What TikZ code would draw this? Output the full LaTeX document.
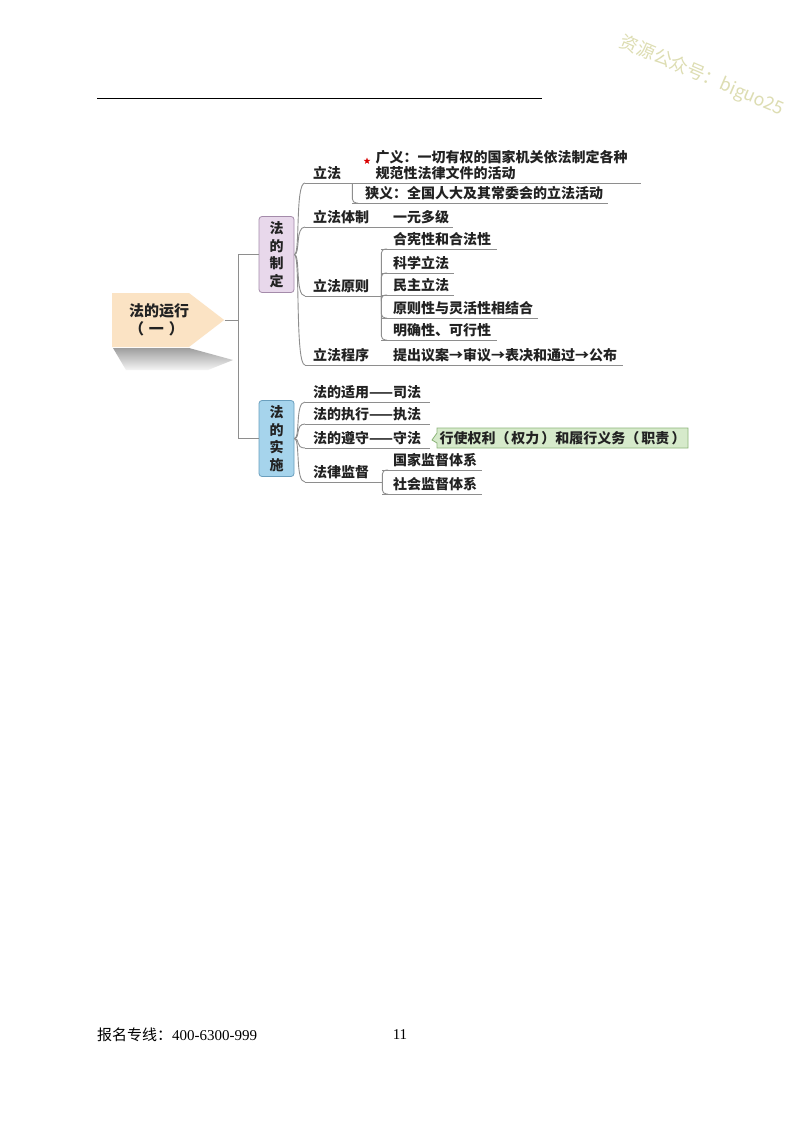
\documentclass[tikz,border=0pt]{standalone}
\usepackage{fontspec}
\setmainfont{Liberation Serif}
\newfontfamily\cjk{Noto Sans CJK SC}
\usetikzlibrary{shapes.geometric,shapes.symbols,shapes.callouts}

\definecolor{rootfill}{HTML}{FBE3C4}
\definecolor{zdfill}{HTML}{E8D8EB}
\definecolor{zdline}{HTML}{A48BAA}
\definecolor{ssfill}{HTML}{A6D4EC}
\definecolor{ssline}{HTML}{6A9FBE}
\definecolor{qlfill}{HTML}{D6EACB}
\definecolor{qlline}{HTML}{8DB57A}
\definecolor{linegray}{HTML}{8E8E8E}
\definecolor{inkgray}{HTML}{222222}
\definecolor{wmcolor}{HTML}{DDDDB2}

\newcommand{\mapfont}{\cjk\bfseries\fontsize{14}{16}\selectfont}

\tikzset{
  branch/.style={draw=linegray, line width=0.9pt},
  bracket/.style={out=0, in=180, out distance=6pt, in distance=10pt},
  item/.style={anchor=south west, inner xsep=8pt, inner ysep=2.5pt, align=left,
    text=inkgray, font=\mapfont,
    append after command={(\tikzlastnode.south west) edge[branch] (\tikzlastnode.south east)}},
  sub/.style={item, inner xsep=12pt},
  mainbox/.style={draw, rounded corners=3pt, line width=0.8pt, minimum width=35pt,
    minimum height=76pt, inner sep=0pt, align=center, text=inkgray,
    font=\cjk\bfseries\fontsize{14}{17.5}\selectfont},
}

\begin{document}
\begin{tikzpicture}[x=1pt, y=-1pt]
\useasboundingbox (0,0) rectangle (800,1124);
\fill[white] (0,0) rectangle (800,1124);

% page rule and watermark
\draw[black, line width=0.9pt] (97,98) -- (542,98);
\node[rotate=-23, text=wmcolor, font=\cjk\fontsize{18}{18}\selectfont] (shuiyin) at (702,76) {资源公众号：biguo25};

% root with its shadow
\shade[top color=black!38, bottom color=black!4] (113,348) -- (189,348) -- (233,360) -- (208,370) -- (126,370) -- cycle;
\node[signal, signal to=east, signal pointer angle=75, fill=rootfill, minimum height=54pt,
  inner xsep=0pt, text width=77pt, align=left, text=inkgray,
  font=\cjk\bfseries\fontsize{15}{18}\selectfont] (root) at (150.5,320) {\hspace*{17pt}法的运行\\\hspace*{17pt}（\hspace{5pt}一\hspace{5pt}）};

\node[mainbox, fill=zdfill, draw=zdline] (zhiding) at (276.5,254.5) {法\\的\\制\\定};
\node[mainbox, fill=ssfill, draw=ssline] (shishi) at (276.5,438.5) {法\\的\\实\\施};
\coordinate (trunk) at ([xshift=14pt]root.east);
\draw[branch] (root.east) -- (trunk) |- (zhiding.west);
\draw[branch] (trunk) |- (shishi.west);

% 法的制定
\node[item, text width=31pt] (lifa) at (305,183) {立法};
\node[item, text width=132pt] (tizhi) at (305,227) {\mbox{立法体制\hspace{24pt}一元多级}};
\node[item, text width=60pt] (yuanze) at (305,296) {立法原则};
\node[item, text width=302pt] (chengxu) at (305,365) {\mbox{立法程序\hspace{24pt}提出议案→审议→表决和通过→公布}};
\foreach \n in {lifa,tizhi,yuanze,chengxu}
  \draw[branch] (zhiding.east) to[bracket] (\n.south west);

\node[item, inner xsep=23pt, text width=242pt] (guangyi) at (lifa.south east) {广义：一切有权的国家机关依法制定各种\\规范性法律文件的活动};
\node[star, star points=5, star point ratio=2.4, fill=red!85!black, inner sep=0pt, minimum size=7pt] (xing) at (367,161) {};
\node[item, inner xsep=13pt, text width=230pt] (xiayi) at (352,203) {狭义：全国人大及其常委会的立法活动};
\draw[branch, rounded corners=4pt] (lifa.south east) |- ([xshift=6pt]xiayi.south west);

\node[sub, text width=92pt] (hexian) at (381,249) {合宪性和合法性};
\node[sub, text width=49pt] (kexue) at (381,273) {科学立法};
\node[sub, text width=49pt] (minzhu) at (381,295) {民主立法};
\node[sub, text width=133pt] (jiehe) at (381,318) {原则性与灵活性相结合};
\node[sub, text width=92pt] (mingque) at (381,340) {明确性、可行性};
\foreach \n in {hexian,kexue,minzhu,jiehe,mingque}
  \draw[branch, rounded corners=4pt] (yuanze.south east) |- ([xshift=6pt]\n.south west);

% 法的实施
\node[item, text width=109pt] (shiyong) at (305,402) {\mbox{法的适用——司法}};
\node[item, text width=109pt] (zhixing) at (305,424) {\mbox{法的执行——执法}};
\node[item, text width=109pt] (zunshou) at (305,448) {\mbox{法的遵守——守法}};
\node[item, text width=61pt] (jiandu) at (305,482) {法律监督};
\foreach \n in {shiyong,zhixing,zunshou,jiandu}
  \draw[branch] (shishi.east) to[bracket] (\n.south west);

\node[sub, inner xsep=11pt, text width=78pt] (guojia) at (382,470) {国家监督体系};
\node[sub, inner xsep=11pt, text width=78pt] (shehui) at (382,494) {社会监督体系};
\foreach \n in {guojia,shehui}
  \draw[branch, rounded corners=4pt] (jiandu.south east) |- ([xshift=6pt]\n.south west);

\node[rectangle callout, callout absolute pointer={(432,440)}, callout pointer width=10pt,
  fill=qlfill, draw=qlline, line width=0.8pt, minimum width=251pt, minimum height=20pt,
  inner sep=0pt, text=inkgray, font=\mapfont] (quanli) at (562.5,438) {行使权利（\hspace{2pt}权力\hspace{2pt}）和履行义务（\hspace{2pt}职责\hspace{2pt}）};

% footer
\node[anchor=west, inner sep=0pt, font=\fontsize{15}{18}\selectfont] (baoming) at (97,1035) {{\cjk 报名专线：}400-6300-999};
\node[inner sep=0pt, font=\fontsize{15}{18}\selectfont] (yema) at (400,1035) {11};
\end{tikzpicture}
\end{document}
